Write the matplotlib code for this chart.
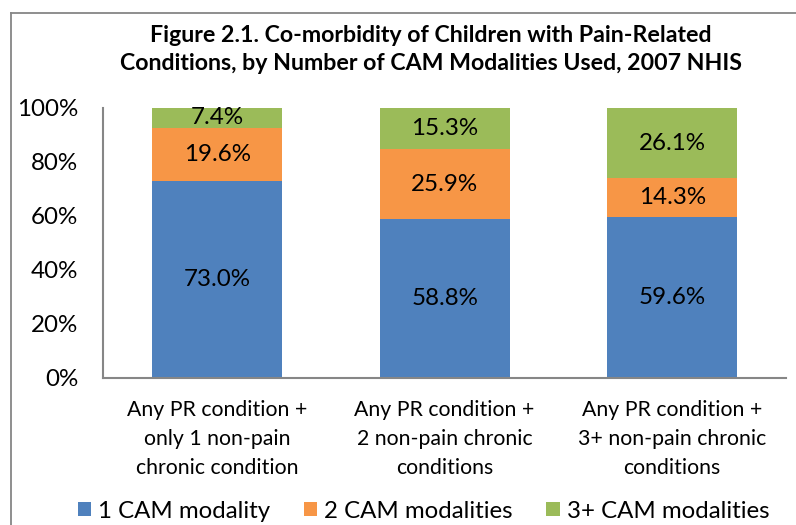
import numpy as np
import matplotlib
matplotlib.use("Agg")
import matplotlib.pyplot as plt
from matplotlib.lines import Line2D

categories = [
    "Any PR condition +\nonly 1 non-pain\nchronic condition",
    "Any PR condition +\n2 non-pain chronic\nconditions",
    "Any PR condition +\n3+ non-pain chronic\nconditions",
]
series_names = ["1 CAM modality", "2 CAM modalities", "3+ CAM modalities"]
one_cam = [73.0, 58.8, 59.6]
two_cam = [19.6, 25.9, 14.3]
three_cam = [7.4, 15.3, 26.1]
colors = ["#4F81BD", "#F79646", "#9BBB59"]
yticks = [0, 20, 40, 60, 80, 100]

plt.rcParams["font.family"] = ["Lato", "DejaVu Sans"]

fig = plt.figure(figsize=(7.96, 5.25), dpi=100)
ax = fig.add_axes([0.1298, 0.2806, 0.8576, 0.5137])

x = np.arange(len(categories))
width = 1 / 1.75
bottom = np.zeros(len(categories))
for name, vals, col in zip(series_names, [one_cam, two_cam, three_cam], colors):
    vals = np.array(vals)
    ax.bar(x, vals, width, bottom=bottom, color=col, label=name)
    for xi, b, v in zip(x, bottom, vals):
        ax.text(xi, b + v / 2, f"{v:.1f}%", ha="center", va="center", fontsize=17.4)
    bottom += vals

ax.set_xlim(-0.5, 2.5)
ax.set_ylim(0, 100)
ax.set_yticks(yticks)
ax.set_yticklabels([f"{t}%" for t in yticks], fontsize=17.4)
ax.set_xticks(x)
ax.set_xticklabels(categories, fontsize=15.3, linespacing=1.55)
ax.tick_params(axis="both", length=0)
ax.tick_params(axis="y", pad=18)
ax.tick_params(axis="x", pad=16)
for side in ["top", "right"]:
    ax.spines[side].set_visible(False)
for side in ["left", "bottom"]:
    ax.spines[side].set_color("#868686")
    ax.spines[side].set_linewidth(1.5)

fig.text(0.5415, 0.9056, "Figure 2.1. Co-morbidity of Children with Pain-Related\n"
         "Conditions, by Number of CAM Modalities Used, 2007 NHIS",
         ha="center", va="center", fontsize=16.7, fontweight="bold", linespacing=1.38)

fig.legend(loc="center", bbox_to_anchor=(0.532, 1 - 511 / 525), ncol=3, frameon=False,
           fontsize=17.3, handlelength=0.55, handleheight=0.55, handletextpad=0.3,
           columnspacing=1.4)

# chart frame (left and top edges visible in the crop)
fig.add_artist(Line2D([11 / 796, 11 / 796], [0, 1 - 12.7 / 525], transform=fig.transFigure,
                      color="#868686", lw=1.3))
fig.add_artist(Line2D([11 / 796, 1], [1 - 12.7 / 525, 1 - 12.7 / 525], transform=fig.transFigure,
                      color="#868686", lw=1.3))

fig.savefig("out.png", dpi=100)
